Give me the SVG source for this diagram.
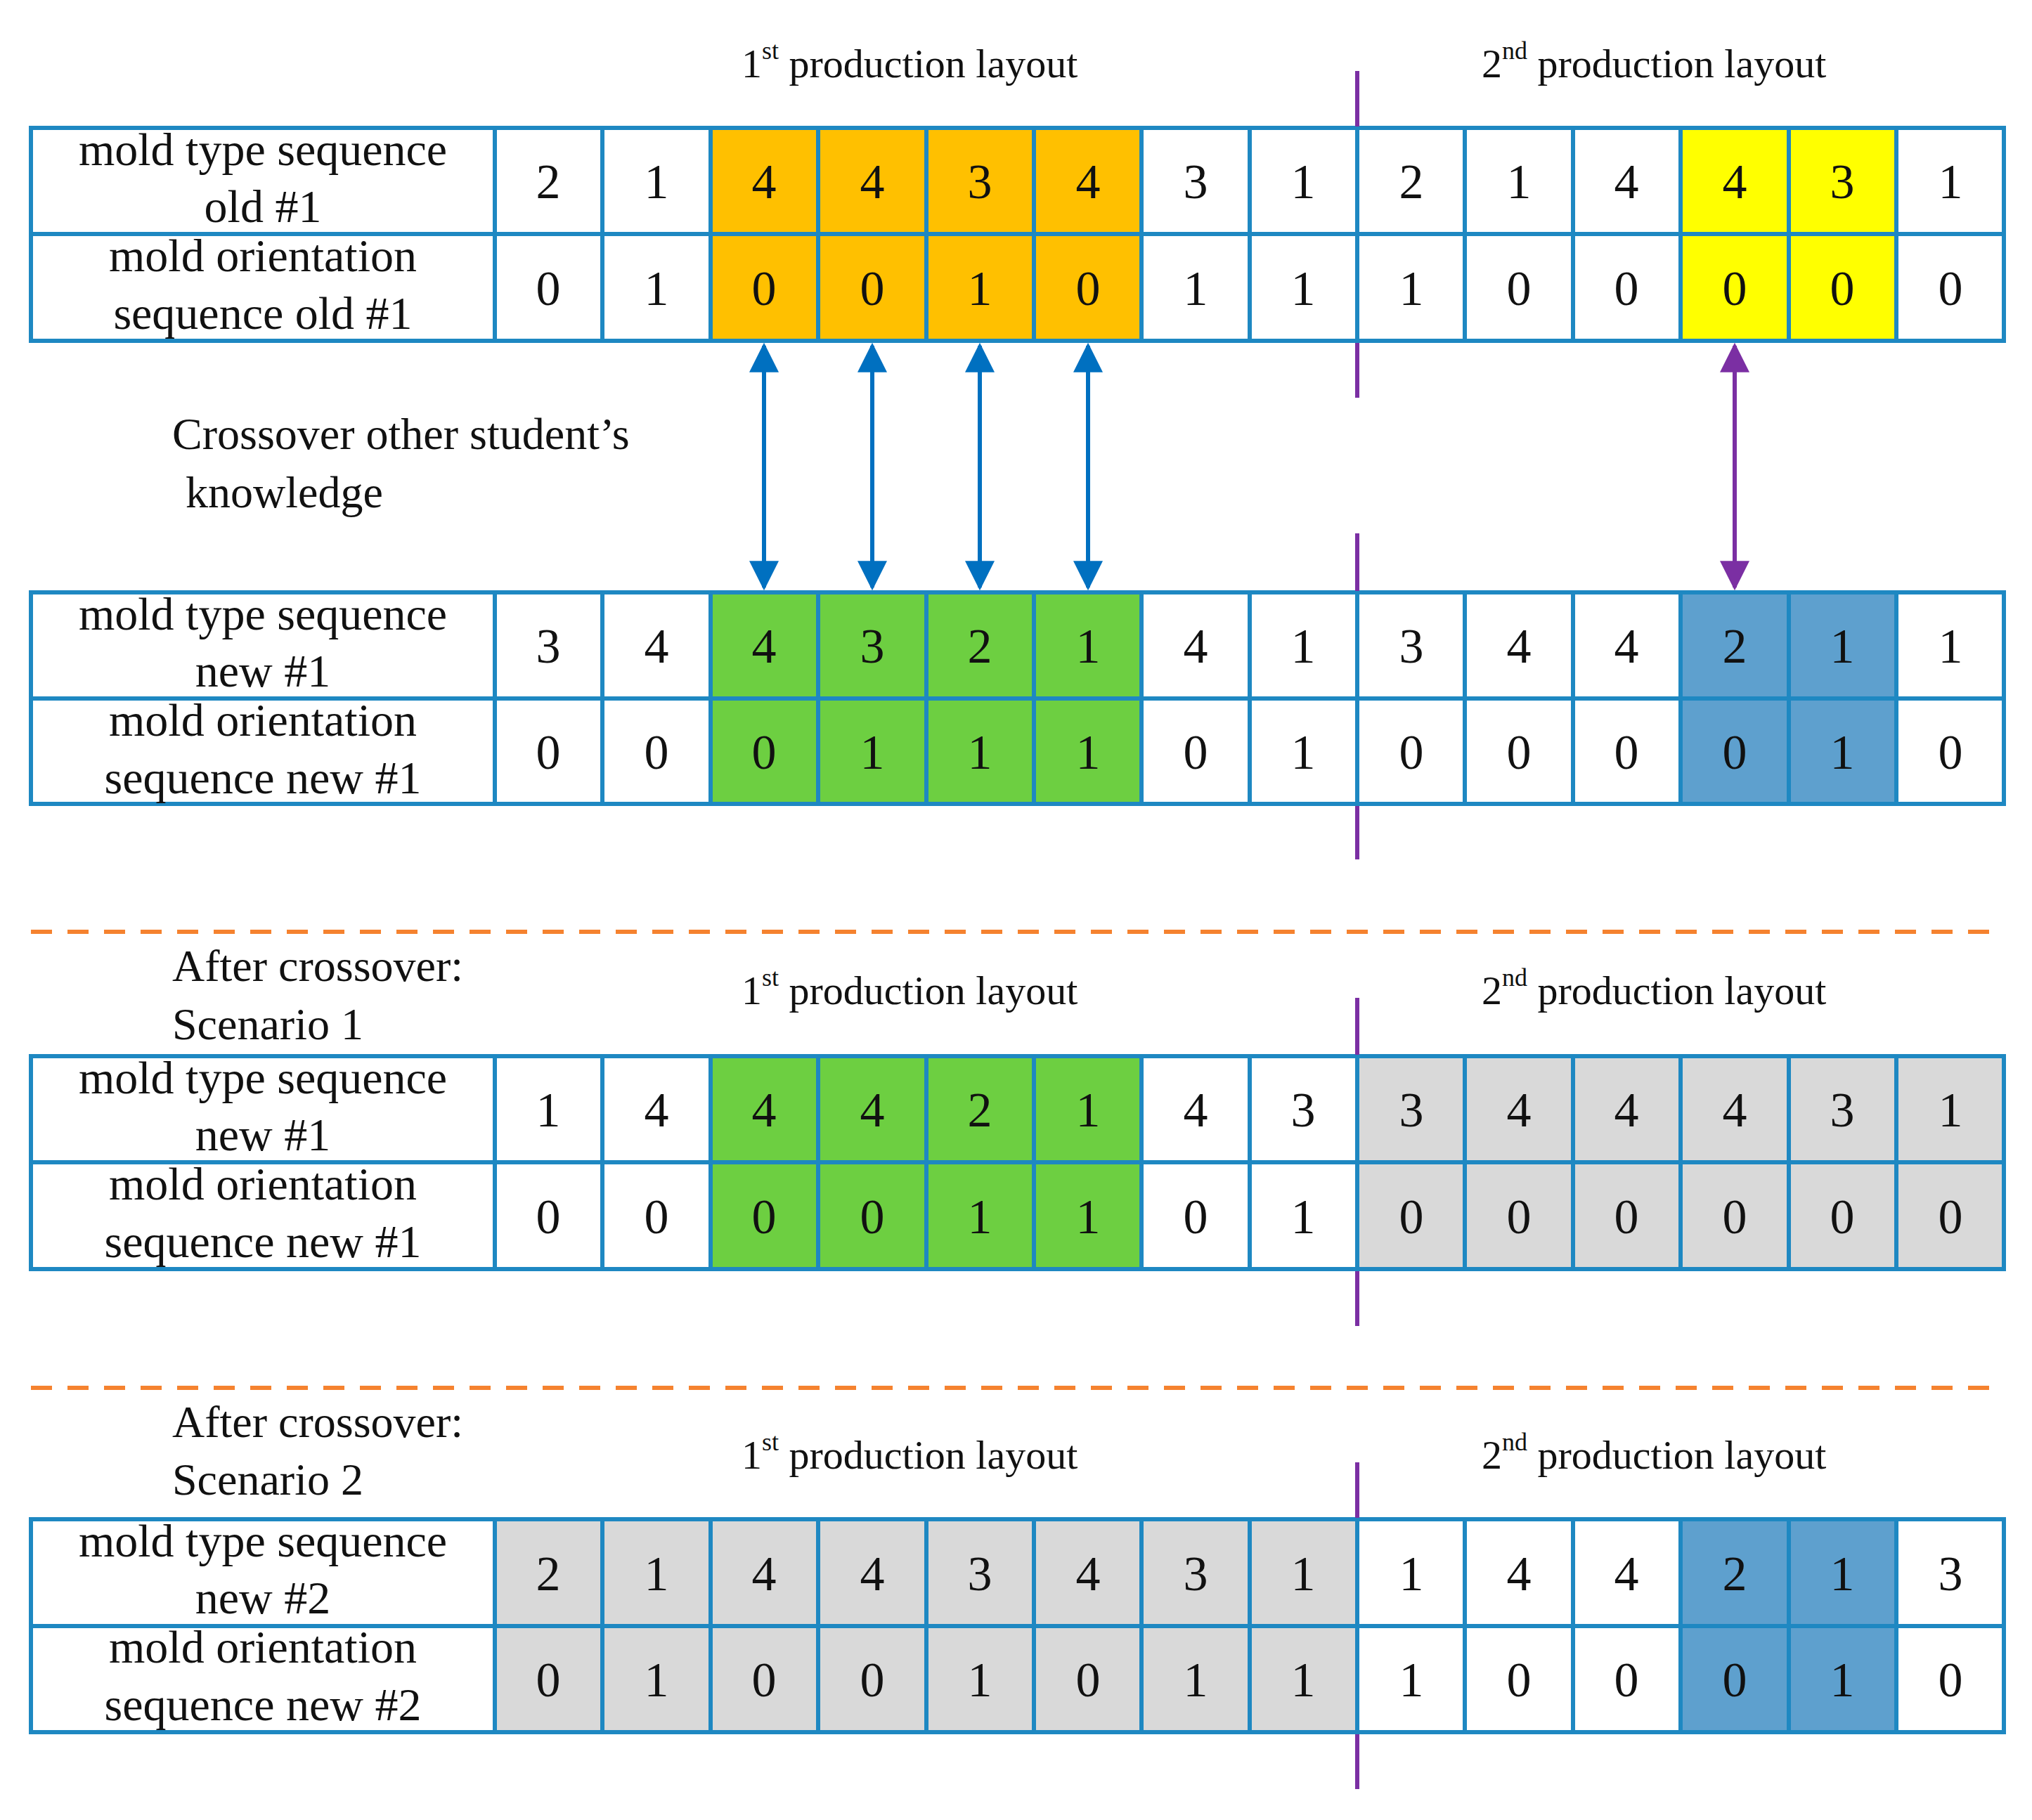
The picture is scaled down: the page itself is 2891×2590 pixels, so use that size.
<svg xmlns="http://www.w3.org/2000/svg" width="2891" height="2590" viewBox="0 0 2891 2590">
<defs>
<style>
.c{stroke:#1E88C2;stroke-width:6;fill:#fff}
.o{fill:#FFC000}.y{fill:#FFFF00}.g{fill:#6DCF41}.b{fill:#5EA0CE}.r{fill:#D9D9D9}
.n{font-family:"Liberation Serif",serif;font-size:70px;text-anchor:middle;fill:#111}
.l{font-family:"Liberation Serif",serif;font-size:66px;text-anchor:middle;fill:#111}
.t{font-family:"Liberation Serif",serif;font-size:64px;fill:#111}
.h{font-family:"Liberation Serif",serif;font-size:58px;fill:#111}
.p{stroke:#7B2FA3;stroke-width:6}
.d{stroke:#F5822F;stroke-width:6;stroke-dasharray:30 22}
.ab{stroke:#0070C0;stroke-width:6;fill:none}
.ap{stroke:#7B2FA3;stroke-width:6;fill:none}
</style>
<marker id="mb" viewBox="0 0 10 10" refX="9" refY="5" markerWidth="7" markerHeight="7" markerUnits="strokeWidth" orient="auto-start-reverse"><path d="M0,0L10,5L0,10z" fill="#0070C0"/></marker>
<marker id="mp" viewBox="0 0 10 10" refX="9" refY="5" markerWidth="7" markerHeight="7" markerUnits="strokeWidth" orient="auto-start-reverse"><path d="M0,0L10,5L0,10z" fill="#7B2FA3"/></marker>
</defs>
<rect width="2891" height="2590" fill="#fff"/>

<g id="headers">
<text class="h" x="1055" y="110">1<tspan dy="-26" font-size="36">st</tspan><tspan dy="26"> production layout</tspan></text>
<text class="h" x="2108" y="110">2<tspan dy="-26" font-size="36">nd</tspan><tspan dy="26"> production layout</tspan></text>
<text class="h" x="1055" y="1429">1<tspan dy="-26" font-size="36">st</tspan><tspan dy="26"> production layout</tspan></text>
<text class="h" x="2108" y="1429">2<tspan dy="-26" font-size="36">nd</tspan><tspan dy="26"> production layout</tspan></text>
<text class="h" x="1055" y="2090">1<tspan dy="-26" font-size="36">st</tspan><tspan dy="26"> production layout</tspan></text>
<text class="h" x="2108" y="2090">2<tspan dy="-26" font-size="36">nd</tspan><tspan dy="26"> production layout</tspan></text>
<text class="t" x="245" y="639">Crossover other student’s</text>
<text class="t" x="264" y="722">knowledge</text>
<text class="t" x="245" y="1396">After crossover:</text>
<text class="t" x="245" y="1479">Scenario 1</text>
<text class="t" x="245" y="2045">After crossover:</text>
<text class="t" x="245" y="2127">Scenario 2</text>
</g>

<g id="table1">
<rect class="c" x="44" y="182" width="660" height="151"/><rect class="c" x="44" y="333" width="660" height="152"/>
<text class="l" x="374" y="235">mold type sequence</text><text class="l" x="374" y="316">old #1</text>
<text class="l" x="374" y="386">mold orientation</text><text class="l" x="374" y="468">sequence old #1</text>
<g class="c">
<rect x="704" y="182" width="153" height="151"/><rect x="857" y="182" width="154" height="151"/><rect class="c o" x="1011" y="182" width="153" height="151"/><rect class="c o" x="1164" y="182" width="154" height="151"/><rect class="c o" x="1318" y="182" width="153" height="151"/><rect class="c o" x="1471" y="182" width="153" height="151"/><rect x="1624" y="182" width="154" height="151"/><rect x="1778" y="182" width="153" height="151"/><rect x="1931" y="182" width="153" height="151"/><rect x="2084" y="182" width="154" height="151"/><rect x="2238" y="182" width="153" height="151"/><rect class="c y" x="2391" y="182" width="154" height="151"/><rect class="c y" x="2545" y="182" width="153" height="151"/><rect x="2698" y="182" width="153" height="151"/>
<rect x="704" y="333" width="153" height="152"/><rect x="857" y="333" width="154" height="152"/><rect class="c o" x="1011" y="333" width="153" height="152"/><rect class="c o" x="1164" y="333" width="154" height="152"/><rect class="c o" x="1318" y="333" width="153" height="152"/><rect class="c o" x="1471" y="333" width="153" height="152"/><rect x="1624" y="333" width="154" height="152"/><rect x="1778" y="333" width="153" height="152"/><rect x="1931" y="333" width="153" height="152"/><rect x="2084" y="333" width="154" height="152"/><rect x="2238" y="333" width="153" height="152"/><rect class="c y" x="2391" y="333" width="154" height="152"/><rect class="c y" x="2545" y="333" width="153" height="152"/><rect x="2698" y="333" width="153" height="152"/>
</g>
<g class="n">
<text x="780" y="282">2</text><text x="934" y="282">1</text><text x="1087" y="282">4</text><text x="1241" y="282">4</text><text x="1394" y="282">3</text><text x="1548" y="282">4</text><text x="1701" y="282">3</text><text x="1854" y="282">1</text><text x="2008" y="282">2</text><text x="2161" y="282">1</text><text x="2314" y="282">4</text><text x="2468" y="282">4</text><text x="2621" y="282">3</text><text x="2775" y="282">1</text>
<text x="780" y="434">0</text><text x="934" y="434">1</text><text x="1087" y="434">0</text><text x="1241" y="434">0</text><text x="1394" y="434">1</text><text x="1548" y="434">0</text><text x="1701" y="434">1</text><text x="1854" y="434">1</text><text x="2008" y="434">1</text><text x="2161" y="434">0</text><text x="2314" y="434">0</text><text x="2468" y="434">0</text><text x="2621" y="434">0</text><text x="2775" y="434">0</text>
</g>
</g>

<g id="table2">
<rect class="c" x="44" y="843" width="660" height="151"/><rect class="c" x="44" y="994" width="660" height="150"/>
<text class="l" x="374" y="896">mold type sequence</text><text class="l" x="374" y="977">new #1</text>
<text class="l" x="374" y="1047">mold orientation</text><text class="l" x="374" y="1129">sequence new #1</text>
<g class="c">
<rect x="704" y="843" width="153" height="151"/><rect x="857" y="843" width="154" height="151"/><rect class="c g" x="1011" y="843" width="153" height="151"/><rect class="c g" x="1164" y="843" width="154" height="151"/><rect class="c g" x="1318" y="843" width="153" height="151"/><rect class="c g" x="1471" y="843" width="153" height="151"/><rect x="1624" y="843" width="154" height="151"/><rect x="1778" y="843" width="153" height="151"/><rect x="1931" y="843" width="153" height="151"/><rect x="2084" y="843" width="154" height="151"/><rect x="2238" y="843" width="153" height="151"/><rect class="c b" x="2391" y="843" width="154" height="151"/><rect class="c b" x="2545" y="843" width="153" height="151"/><rect x="2698" y="843" width="153" height="151"/>
<rect x="704" y="994" width="153" height="150"/><rect x="857" y="994" width="154" height="150"/><rect class="c g" x="1011" y="994" width="153" height="150"/><rect class="c g" x="1164" y="994" width="154" height="150"/><rect class="c g" x="1318" y="994" width="153" height="150"/><rect class="c g" x="1471" y="994" width="153" height="150"/><rect x="1624" y="994" width="154" height="150"/><rect x="1778" y="994" width="153" height="150"/><rect x="1931" y="994" width="153" height="150"/><rect x="2084" y="994" width="154" height="150"/><rect x="2238" y="994" width="153" height="150"/><rect class="c b" x="2391" y="994" width="154" height="150"/><rect class="c b" x="2545" y="994" width="153" height="150"/><rect x="2698" y="994" width="153" height="150"/>
</g>
<g class="n">
<text x="780" y="943">3</text><text x="934" y="943">4</text><text x="1087" y="943">4</text><text x="1241" y="943">3</text><text x="1394" y="943">2</text><text x="1548" y="943">1</text><text x="1701" y="943">4</text><text x="1854" y="943">1</text><text x="2008" y="943">3</text><text x="2161" y="943">4</text><text x="2314" y="943">4</text><text x="2468" y="943">2</text><text x="2621" y="943">1</text><text x="2775" y="943">1</text>
<text x="780" y="1094">0</text><text x="934" y="1094">0</text><text x="1087" y="1094">0</text><text x="1241" y="1094">1</text><text x="1394" y="1094">1</text><text x="1548" y="1094">1</text><text x="1701" y="1094">0</text><text x="1854" y="1094">1</text><text x="2008" y="1094">0</text><text x="2161" y="1094">0</text><text x="2314" y="1094">0</text><text x="2468" y="1094">0</text><text x="2621" y="1094">1</text><text x="2775" y="1094">0</text>
</g>
</g>

<g id="table3">
<rect class="c" x="44" y="1503" width="660" height="151"/><rect class="c" x="44" y="1654" width="660" height="152"/>
<text class="l" x="374" y="1556">mold type sequence</text><text class="l" x="374" y="1637">new #1</text>
<text class="l" x="374" y="1707">mold orientation</text><text class="l" x="374" y="1789">sequence new #1</text>
<g class="c">
<rect x="704" y="1503" width="153" height="151"/><rect x="857" y="1503" width="154" height="151"/><rect class="c g" x="1011" y="1503" width="153" height="151"/><rect class="c g" x="1164" y="1503" width="154" height="151"/><rect class="c g" x="1318" y="1503" width="153" height="151"/><rect class="c g" x="1471" y="1503" width="153" height="151"/><rect x="1624" y="1503" width="154" height="151"/><rect x="1778" y="1503" width="153" height="151"/><rect class="c r" x="1931" y="1503" width="153" height="151"/><rect class="c r" x="2084" y="1503" width="154" height="151"/><rect class="c r" x="2238" y="1503" width="153" height="151"/><rect class="c r" x="2391" y="1503" width="154" height="151"/><rect class="c r" x="2545" y="1503" width="153" height="151"/><rect class="c r" x="2698" y="1503" width="153" height="151"/>
<rect x="704" y="1654" width="153" height="152"/><rect x="857" y="1654" width="154" height="152"/><rect class="c g" x="1011" y="1654" width="153" height="152"/><rect class="c g" x="1164" y="1654" width="154" height="152"/><rect class="c g" x="1318" y="1654" width="153" height="152"/><rect class="c g" x="1471" y="1654" width="153" height="152"/><rect x="1624" y="1654" width="154" height="152"/><rect x="1778" y="1654" width="153" height="152"/><rect class="c r" x="1931" y="1654" width="153" height="152"/><rect class="c r" x="2084" y="1654" width="154" height="152"/><rect class="c r" x="2238" y="1654" width="153" height="152"/><rect class="c r" x="2391" y="1654" width="154" height="152"/><rect class="c r" x="2545" y="1654" width="153" height="152"/><rect class="c r" x="2698" y="1654" width="153" height="152"/>
</g>
<g class="n">
<text x="780" y="1603">1</text><text x="934" y="1603">4</text><text x="1087" y="1603">4</text><text x="1241" y="1603">4</text><text x="1394" y="1603">2</text><text x="1548" y="1603">1</text><text x="1701" y="1603">4</text><text x="1854" y="1603">3</text><text x="2008" y="1603">3</text><text x="2161" y="1603">4</text><text x="2314" y="1603">4</text><text x="2468" y="1603">4</text><text x="2621" y="1603">3</text><text x="2775" y="1603">1</text>
<text x="780" y="1755">0</text><text x="934" y="1755">0</text><text x="1087" y="1755">0</text><text x="1241" y="1755">0</text><text x="1394" y="1755">1</text><text x="1548" y="1755">1</text><text x="1701" y="1755">0</text><text x="1854" y="1755">1</text><text x="2008" y="1755">0</text><text x="2161" y="1755">0</text><text x="2314" y="1755">0</text><text x="2468" y="1755">0</text><text x="2621" y="1755">0</text><text x="2775" y="1755">0</text>
</g>
</g>

<g id="table4">
<rect class="c" x="44" y="2162" width="660" height="152"/><rect class="c" x="44" y="2314" width="660" height="151"/>
<text class="l" x="374" y="2215">mold type sequence</text><text class="l" x="374" y="2296">new #2</text>
<text class="l" x="374" y="2366">mold orientation</text><text class="l" x="374" y="2448">sequence new #2</text>
<g class="c">
<rect class="c r" x="704" y="2162" width="153" height="152"/><rect class="c r" x="857" y="2162" width="154" height="152"/><rect class="c r" x="1011" y="2162" width="153" height="152"/><rect class="c r" x="1164" y="2162" width="154" height="152"/><rect class="c r" x="1318" y="2162" width="153" height="152"/><rect class="c r" x="1471" y="2162" width="153" height="152"/><rect class="c r" x="1624" y="2162" width="154" height="152"/><rect class="c r" x="1778" y="2162" width="153" height="152"/><rect x="1931" y="2162" width="153" height="152"/><rect x="2084" y="2162" width="154" height="152"/><rect x="2238" y="2162" width="153" height="152"/><rect class="c b" x="2391" y="2162" width="154" height="152"/><rect class="c b" x="2545" y="2162" width="153" height="152"/><rect x="2698" y="2162" width="153" height="152"/>
<rect class="c r" x="704" y="2314" width="153" height="151"/><rect class="c r" x="857" y="2314" width="154" height="151"/><rect class="c r" x="1011" y="2314" width="153" height="151"/><rect class="c r" x="1164" y="2314" width="154" height="151"/><rect class="c r" x="1318" y="2314" width="153" height="151"/><rect class="c r" x="1471" y="2314" width="153" height="151"/><rect class="c r" x="1624" y="2314" width="154" height="151"/><rect class="c r" x="1778" y="2314" width="153" height="151"/><rect x="1931" y="2314" width="153" height="151"/><rect x="2084" y="2314" width="154" height="151"/><rect x="2238" y="2314" width="153" height="151"/><rect class="c b" x="2391" y="2314" width="154" height="151"/><rect class="c b" x="2545" y="2314" width="153" height="151"/><rect x="2698" y="2314" width="153" height="151"/>
</g>
<g class="n">
<text x="780" y="2263">2</text><text x="934" y="2263">1</text><text x="1087" y="2263">4</text><text x="1241" y="2263">4</text><text x="1394" y="2263">3</text><text x="1548" y="2263">4</text><text x="1701" y="2263">3</text><text x="1854" y="2263">1</text><text x="2008" y="2263">1</text><text x="2161" y="2263">4</text><text x="2314" y="2263">4</text><text x="2468" y="2263">2</text><text x="2621" y="2263">1</text><text x="2775" y="2263">3</text>
<text x="780" y="2414">0</text><text x="934" y="2414">1</text><text x="1087" y="2414">0</text><text x="1241" y="2414">0</text><text x="1394" y="2414">1</text><text x="1548" y="2414">0</text><text x="1701" y="2414">1</text><text x="1854" y="2414">1</text><text x="2008" y="2414">1</text><text x="2161" y="2414">0</text><text x="2314" y="2414">0</text><text x="2468" y="2414">0</text><text x="2621" y="2414">1</text><text x="2775" y="2414">0</text>
</g>
</g>

<g id="connectors">
<line class="ab" x1="1087" y1="492" x2="1087" y2="836" marker-start="url(#mb)" marker-end="url(#mb)"/>
<line class="ab" x1="1241" y1="492" x2="1241" y2="836" marker-start="url(#mb)" marker-end="url(#mb)"/>
<line class="ab" x1="1394" y1="492" x2="1394" y2="836" marker-start="url(#mb)" marker-end="url(#mb)"/>
<line class="ab" x1="1548" y1="492" x2="1548" y2="836" marker-start="url(#mb)" marker-end="url(#mb)"/>
<line class="ap" x1="2468" y1="492" x2="2468" y2="836" marker-start="url(#mp)" marker-end="url(#mp)"/>
<g class="p">
<line x1="1931" y1="101" x2="1931" y2="180"/><line x1="1931" y1="488" x2="1931" y2="566"/>
<line x1="1931" y1="759" x2="1931" y2="841"/><line x1="1931" y1="1147" x2="1931" y2="1223"/>
<line x1="1931" y1="1420" x2="1931" y2="1501"/><line x1="1931" y1="1809" x2="1931" y2="1887"/>
<line x1="1931" y1="2081" x2="1931" y2="2160"/><line x1="1931" y1="2468" x2="1931" y2="2546"/>
</g>
<line class="d" x1="44" y1="1326" x2="2851" y2="1326"/>
<line class="d" x1="44" y1="1975" x2="2851" y2="1975"/>
</g>
</svg>
